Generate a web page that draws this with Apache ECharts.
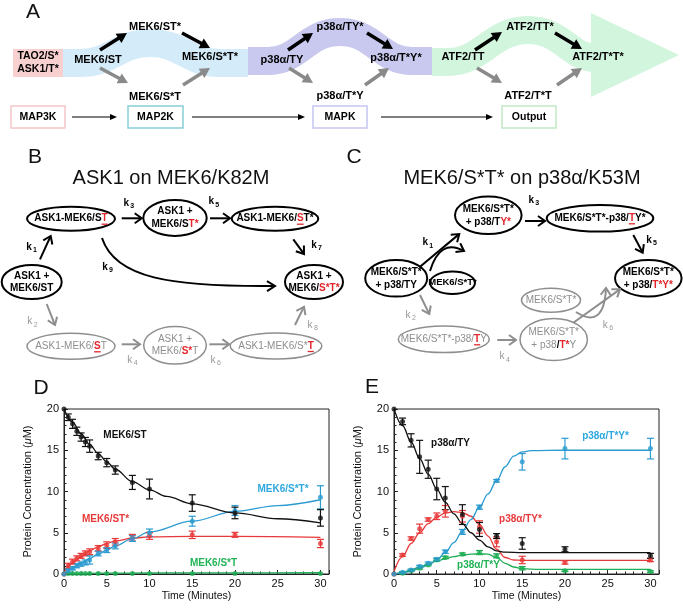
<!DOCTYPE html>
<html><head><meta charset="utf-8">
<script src="https://cdn.jsdelivr.net/npm/echarts@6/dist/echarts.min.js"></script>
<style>html,body{margin:0;padding:0;background:#fff}#c{width:683px;height:610px}</style>
</head><body><div id="c"></div>
<script>
const FF = '"Liberation Sans", Arial, Helvetica, sans-serif';

// ---------- Panel D data (ASK1 on MEK6/K82M) ----------
const timeD = [0, 0.5, 1, 1.5, 2, 2.5, 3, 4, 5, 6, 8, 10, 15, 20, 30];
const mek6ST = [20, 19.0, 18.2, 17.3, 16.6, 16.0, 15.5, 14.3, 13.5, 12.6, 11.1, 10.3, 8.6, 7.4, 6.8];
const mek6STErr = [0, 0.4, 0.55, 0.5, 0.5, 0.55, 0.75, 0.45, 0.5, 0.5, 0.85, 1.2, 1.0, 0.7, 1.0];
const mek6STp = [0, 1.0, 1.5, 1.9, 2.2, 2.5, 2.7, 3.1, 3.5, 3.9, 4.4, 4.6, 4.75, 4.75, 3.7];
const mek6STpErr = [0, 0.3, 0.3, 0.3, 0.3, 0.3, 0.35, 0.35, 0.4, 0.4, 0.4, 0.4, 0.45, 0.3, 0.5];
const mek6SpTp = [0, 0.4, 0.7, 1.0, 1.2, 1.4, 1.7, 2.5, 2.9, 3.4, 4.3, 5.0, 6.4, 7.7, 9.3];
const mek6SpTpErr = [0, 0.2, 0.2, 0.25, 0.25, 0.3, 0.5, 0.3, 0.3, 0.35, 0.35, 0.45, 0.6, 0.6, 1.4];
const mek6SpT = [0, 0.05, 0.05, 0.05, 0.05, 0.05, 0.05, 0.05, 0.05, 0.05, 0.05, 0.05, 0.05, 0.05, 0.05];
const mek6SpTErr = [0, 0, 0, 0, 0, 0, 0, 0, 0, 0, 0, 0, 0, 0, 0];
// fitted curves D
const fitD_ST_t = [0, 1, 2, 3, 4, 5, 6, 8, 10, 12, 15, 20, 25, 30];
const fitD_ST_v = [20, 18.4, 17.0, 15.7, 14.6, 13.6, 12.7, 11.2, 10.2, 9.4, 8.5, 7.4, 6.7, 6.2];
const fitD_STp_t = [0, 1, 2, 3, 4, 5, 6, 8, 10, 15, 20, 30];
const fitD_STp_v = [0.2, 1.3, 2.1, 2.8, 3.3, 3.7, 4.0, 4.35, 4.5, 4.55, 4.55, 4.45];
const fitD_SpTp_t = [0, 1, 2, 3, 4, 5, 6, 8, 10, 15, 20, 25, 30];
const fitD_SpTp_v = [0, 0.7, 1.3, 1.9, 2.4, 2.9, 3.4, 4.3, 5.1, 6.4, 7.6, 8.3, 9.0];
const fitD_SpT_t = [0, 5, 10, 15, 20, 30];
const fitD_SpT_v = [0.05, 0.1, 0.12, 0.13, 0.14, 0.15];

// ---------- Panel E data (MEK6/S*T* on p38a/K53M) ----------
const timeE = [0, 1, 2, 3, 4, 5, 6, 8, 10, 12, 15, 20, 30];
const p38TY = [20, 18.5, 16.2, 14.2, 12.7, 10.3, 9.2, 7.2, 5.4, 4.6, 3.7, 3.0, 2.2];
const p38TYErr = [0, 0.4, 0.8, 2.0, 1.1, 1.3, 1.4, 1.2, 0.85, 0.3, 0.7, 0.3, 0.3];
const p38TYp = [0, 2.3, 4.3, 5.5, 6.6, 7.0, 7.6, 7.0, 5.7, 3.9, 1.7, 1.4, 1.7];
const p38TYpErr = [0, 0.15, 0.2, 0.55, 0.2, 0.4, 0.7, 0.7, 0.75, 0.6, 0.45, 0.2, 0.2];
const p38TpYp = [0, 0.2, 0.5, 0.9, 1.3, 1.8, 2.7, 5.1, 8.1, 11.3, 13.6, 15.2, 15.2];
const p38TpYpErr = [0, 0.1, 0.1, 0.15, 0.15, 0.15, 0.2, 0.3, 0.25, 0.15, 1.0, 1.25, 1.25];
const p38TpY = [0, 0.1, 0.4, 0.7, 1.1, 1.7, 2.0, 2.4, 2.6, 2.2, 0.7, 0.4, 0.3];
const p38TpYErr = [0, 0.1, 0.1, 0.1, 0.1, 0.15, 0.15, 0.15, 0.25, 0.25, 0.2, 0.1, 0.1];
// fitted curves E
const fitE_TY_t = [0, 1, 2, 3, 4, 5, 6, 7, 8, 9, 10, 11, 12, 13, 15, 20, 30];
const fitE_TY_v = [20, 18.0, 16.0, 14.0, 12.1, 10.3, 8.7, 7.3, 6.1, 5.0, 4.1, 3.3, 2.8, 2.65, 2.6, 2.6, 2.6];
const fitE_TYp_t = [0, 1, 2, 3, 4, 5, 6, 7, 8, 9, 10, 11, 12, 13, 14, 15, 20, 30];
const fitE_TYp_v = [0.3, 2.1, 3.7, 5.0, 6.1, 6.9, 7.4, 7.55, 7.45, 7.0, 6.0, 4.6, 3.0, 2.0, 1.7, 1.65, 1.65, 1.65];
const fitE_TpYp_t = [0, 1, 2, 3, 4, 5, 6, 7, 8, 9, 10, 11, 12, 13, 14, 15, 16, 20, 30];
const fitE_TpYp_v = [0, 0.1, 0.35, 0.7, 1.1, 1.7, 2.6, 3.8, 5.2, 6.6, 8.1, 9.7, 11.3, 13.0, 14.3, 14.8, 14.95, 15.0, 15.0];
const fitE_TpY_t = [0, 1, 2, 3, 4, 5, 6, 7, 8, 9, 10, 11, 12, 13, 14, 15, 17, 30];
const fitE_TpY_v = [0, 0.2, 0.5, 0.85, 1.2, 1.55, 1.85, 2.1, 2.3, 2.4, 2.45, 2.4, 2.0, 1.3, 0.85, 0.65, 0.55, 0.55];

// tick labels
const xTicks = [0, 5, 10, 15, 20, 25, 30];
const yTicks = [0, 5, 10, 15, 20];

const C_BLACK = '#111111', C_RED = '#e8393a', C_BLUE = '#2a9ad0', C_GREEN = '#1fae55';
const C_BLUE_T = '#2ea8de', C_GREEN_T = '#22b357';
const RED = '#e3262b', GRAY = '#8e8e8e';

// ---------- graphics helpers ----------
const G = [];
const mctx = document.createElement('canvas').getContext('2d');
function fnt(size, weight) { return (weight || 'bold') + ' ' + size + 'px ' + FF; }
function tw(s, font) { mctx.font = font; return mctx.measureText(s).width; }
function T(x, y, s, o) {
  o = o || {};
  G.push({ type: 'text', z: 20, silent: true, style: {
    legacy: false, x: x, y: y, text: s, fill: o.c || '#000', font: fnt(o.s || 10, o.w || 'bold'),
    align: o.a || 'center', verticalAlign: 'middle', textAlign: o.a || 'center', textVerticalAlign: 'middle' } });
}
function RL(cx, cy, parts, size, weight, base) {
  let total = 0;
  parts.forEach(p => { total += tw(p[0], fnt(size, p[3] ? 'bold' : weight)); });
  let x = cx - total / 2;
  parts.forEach(p => {
    const f = fnt(size, p[3] ? 'bold' : weight);
    const w = tw(p[0], f);
    const col = p[1] || base;
    G.push({ type: 'text', z: 20, silent: true, style: { legacy: false, x: x, y: cy, text: p[0], fill: col, font: f,
      align: 'left', verticalAlign: 'middle', textAlign: 'left', textVerticalAlign: 'middle' } });
    if (p[2]) G.push({ type: 'line', z: 20, silent: true, shape: { x1: x, y1: cy + size * 0.55, x2: x + w, y2: cy + size * 0.55 }, style: { stroke: col, lineWidth: 1.3 } });
    x += w;
  });
}
function ELL(cx, cy, rx, ry, col, lw) {
  G.push({ type: 'ellipse', z: 15, silent: true, shape: { cx: cx, cy: cy, rx: rx, ry: ry }, style: { fill: '#fff', stroke: col, lineWidth: lw } });
}
function RECT(x, y, w, h, fill, stroke) {
  G.push({ type: 'rect', z: 5, silent: true, shape: { x: x, y: y, width: w, height: h }, style: { fill: fill, stroke: stroke || null, lineWidth: stroke ? 1.5 : 0 } });
}
function AF(x1, y1, x2, y2, col, lw, hl, hw) {
  const dx = x2 - x1, dy = y2 - y1, L = Math.hypot(dx, dy), ux = dx / L, uy = dy / L;
  const bx = x2 - ux * hl, by = y2 - uy * hl;
  G.push({ type: 'line', z: 18, silent: true, shape: { x1: x1, y1: y1, x2: bx + ux, y2: by + uy }, style: { stroke: col, lineWidth: lw } });
  G.push({ type: 'polygon', z: 18, silent: true, shape: { points: [[x2, y2], [bx - uy * hw, by + ux * hw], [bx + uy * hw, by - ux * hw]] }, style: { fill: col } });
}
function HEAD(x2, y2, ux, uy, col, lw, hl, hw) {
  const bx = x2 - ux * hl, by = y2 - uy * hl;
  G.push({ type: 'polyline', z: 18, silent: true, shape: { points: [[bx - uy * hw, by + ux * hw], [x2, y2], [bx + uy * hw, by - ux * hw]] }, style: { stroke: col, lineWidth: lw, fill: null } });
}
function AO(x1, y1, x2, y2, col, lw, hl, hw) {
  const dx = x2 - x1, dy = y2 - y1, L = Math.hypot(dx, dy), ux = dx / L, uy = dy / L;
  G.push({ type: 'line', z: 18, silent: true, shape: { x1: x1, y1: y1, x2: x2 - ux, y2: y2 - uy }, style: { stroke: col, lineWidth: lw } });
  HEAD(x2, y2, ux, uy, col, lw, hl, hw);
}
function CB(x1, y1, c1x, c1y, c2x, c2y, x2, y2, col, lw, hl, hw) {
  G.push({ type: 'bezierCurve', z: 18, silent: true, shape: { x1: x1, y1: y1, cpx1: c1x, cpy1: c1y, cpx2: c2x, cpy2: c2y, x2: x2, y2: y2 }, style: { stroke: col, lineWidth: lw, fill: null } });
  const dx = x2 - c2x, dy = y2 - c2y, L = Math.hypot(dx, dy);
  HEAD(x2, y2, dx / L, dy / L, col, lw, hl, hw);
}
function QB(x1, y1, cx, cy, x2, y2, col, lw, hl, hw) {
  G.push({ type: 'bezierCurve', z: 18, silent: true, shape: { x1: x1, y1: y1, cpx1: cx, cpy1: cy, x2: x2, y2: y2 }, style: { stroke: col, lineWidth: lw, fill: null } });
  const dx = x2 - cx, dy = y2 - cy, L = Math.hypot(dx, dy);
  HEAD(x2, y2, dx / L, dy / L, col, lw, hl, hw);
}
function K(x, y, n, col, bold) {
  const w = bold ? 'bold' : 'normal';
  T(x - 2, y, 'k', { c: col, s: 10, w: w });
  T(x + 2, y + 3, String(n), { c: col, s: 7, w: w, a: 'left' });
}
function ribbonSeg(shape, col) {
  G.push({ type: 'bezierCurve', z: 2, silent: true, shape: shape, style: { stroke: col, lineWidth: 28, fill: null, lineCap: 'butt' } });
}
function ribbonLine(x1, y1, x2, y2, col) {
  G.push({ type: 'line', z: 2, silent: true, shape: { x1: x1, y1: y1, x2: x2, y2: y2 }, style: { stroke: col, lineWidth: 28, lineCap: 'butt' } });
}

// ---------- Panel letters ----------
[['A', 33, 12], ['B', 35, 157], ['C', 354, 157], ['D', 41, 388], ['E', 372, 387]].forEach(a => T(a[1], a[2], a[0], { s: 21, w: 'normal', c: '#111' }));

// ---------- Panel A ----------
const cBlue = '#d4ecf9', cPurp = '#c9c9ef', cGreen = '#d2f5de';
ribbonLine(63, 63, 80, 63, cBlue);
ribbonSeg({ x1: 80, y1: 63, cpx1: 112, cpy1: 63, cpx2: 118, cpy2: 43, x2: 150, y2: 43 }, cBlue);
ribbonSeg({ x1: 150, y1: 43, cpx1: 182, cpy1: 43, cpx2: 188, cpy2: 63, x2: 220, y2: 63 }, cBlue);
ribbonLine(220, 63, 248, 63, cBlue);
ribbonLine(248, 61, 268, 61, cPurp);
ribbonSeg({ x1: 268, y1: 61, cpx1: 300, cpy1: 61, cpx2: 306, cpy2: 32, x2: 340, y2: 32 }, cPurp);
ribbonSeg({ x1: 340, y1: 32, cpx1: 374, cpy1: 32, cpx2: 380, cpy2: 61, x2: 412, y2: 61 }, cPurp);
ribbonLine(412, 61, 432, 61, cPurp);
ribbonLine(432, 62, 448, 62, cGreen);
ribbonSeg({ x1: 448, y1: 62, cpx1: 482, cpy1: 62, cpx2: 492, cpy2: 30, x2: 528, y2: 30 }, cGreen);
ribbonSeg({ x1: 528, y1: 30, cpx1: 562, cpy1: 30, cpx2: 570, cpy2: 58, x2: 596, y2: 58 }, cGreen);
G.push({ type: 'polygon', z: 2, silent: true, shape: { points: [[591, 13], [591, 97], [679, 55]] }, style: { fill: cGreen } });
RECT(13, 49, 50, 28, '#f8d0d0');
T(38, 56, 'TAO2/S*', { s: 10.5 }); T(38, 69.5, 'ASK1/T*', { s: 10.5 });
[['MEK6/ST', 98, 60], ['MEK6/ST*', 155, 27], ['MEK6/S*T*', 210, 57], ['MEK6/S*T', 155, 97],
 ['p38α/TY', 282, 60], ['p38α/TY*', 340, 27], ['p38α/T*Y*', 396, 58], ['p38α/T*Y', 340, 96],
 ['ATF2/TT', 463, 57], ['ATF2/TT*', 530, 27], ['ATF2/T*T*', 598, 57], ['ATF2/T*T', 528, 96]].forEach(l => T(l[1], l[2], l[0], { s: 11 }));
[[100, 50, 127, 33], [182, 33, 210, 48], [288, 50, 313, 33], [367, 33, 393, 49], [475, 50, 502, 32], [555, 33, 582, 49]]
  .forEach(a => AF(a[0], a[1], a[2], a[3], '#000', 3.5, 10, 5.5));
[[100, 68, 128, 83], [183, 85, 210, 68], [289, 68, 313, 83], [365, 85, 389, 68], [477, 68, 502, 83], [557, 85, 582, 68]]
  .forEach(a => AF(a[0], a[1], a[2], a[3], '#8a8a8a', 3.5, 10, 5.5));
RECT(11, 106, 54, 22, '#fff', '#f3c5c8'); T(38, 117, 'MAP3K', { s: 10.5 });
RECT(128, 106, 55, 22, '#fff', '#86cfd8'); T(155.5, 117, 'MAP2K', { s: 10.5 });
RECT(313, 106, 54, 22, '#fff', '#c5c5f0'); T(340, 117, 'MAPK', { s: 10.5 });
RECT(502, 106, 54, 22, '#fff', '#c2e9c4'); T(529, 117, 'Output', { s: 10.5 });
AF(72, 117, 117, 117, '#000', 1.2, 7, 3);
AF(192, 117, 305, 117, '#000', 1.2, 7, 3);
AF(381, 117, 493, 117, '#000', 1.2, 7, 3);

// ---------- Panel B ----------
T(171, 178, 'ASK1 on MEK6/K82M', { s: 20, w: 'normal', c: '#111' });
ELL(71, 218.7, 44, 12, '#000', 2); RL(71, 218.7, [['ASK1-MEK6/S'], ['T', RED, 1]], 10, 'bold', '#000');
ELL(175, 218, 31.7, 18, '#000', 2); T(175, 211, 'ASK1 +'); RL(175, 224, [['MEK6/S'], ['T*', RED]], 10, 'bold', '#000');
ELL(275, 218.7, 43.3, 12, '#000', 2); RL(275, 218.7, [['ASK1-MEK6/'], ['S', RED, 1], ['T*']], 10, 'bold', '#000');
ELL(31.7, 282, 30, 17, '#000', 2); T(31.7, 276, 'ASK1 +'); T(31.7, 288, 'MEK6/ST');
ELL(314, 282, 29, 17, '#000', 2); T(314, 276, 'ASK1 +'); RL(314, 288, [['MEK6/'], ['S*T*', RED]], 10, 'bold', '#000');
ELL(71, 346.3, 44, 13, GRAY, 1.5); RL(71, 346.3, [['ASK1-MEK6/'], ['S', RED, 1, 1], ['T']], 10, 'normal', GRAY);
ELL(175, 345.3, 31.3, 18.7, GRAY, 1.5); T(175, 339.5, 'ASK1 +', { w: 'normal', c: GRAY }); RL(175, 351.5, [['MEK6/'], ['S*', RED, 0, 1], ['T']], 10, 'normal', GRAY);
ELL(276, 346, 45.8, 13, GRAY, 1.5); RL(276, 346, [['ASK1-MEK6/S*'], ['T', RED, 1, 1]], 10, 'normal', GRAY);
AO(121.7, 218.3, 141.7, 218.3, '#000', 2, 7, 5); K(128.3, 203.3, 3, '#000', true);
AO(210, 218.3, 230, 218.3, '#000', 2, 7, 5); K(213.3, 201.7, 5, '#000', true);
AO(293.3, 239.3, 304, 254, '#000', 2, 7, 5); K(316, 245, 7, '#000', true);
AO(40, 259.3, 50.7, 236, '#000', 2, 7, 5); K(31, 247.3, 1, '#000', true);
CB(102, 238, 115, 278, 170, 287, 275, 286, '#000', 2, 8, 5); K(107, 267.3, 9, '#000', true);
AO(46.7, 304, 55, 325, GRAY, 2, 7, 5); K(31.7, 321.7, 2, '#999', false);
AO(121.7, 344.3, 140, 344.3, GRAY, 2, 7, 5); K(131.7, 360, 4, '#999', false);
AO(209.3, 344.3, 229.3, 344.3, GRAY, 2, 7, 5); K(215, 360, 6, '#999', false);
AO(295, 325, 304, 306.7, GRAY, 2, 7, 5); K(312, 325, 8, '#999', false);

// ---------- Panel C ----------
T(522, 178, 'MEK6/S*T* on p38α/K53M', { s: 20, w: 'normal', c: '#111' });
ELL(488.3, 215.3, 33.3, 18.7, '#000', 2); T(488.3, 209.5, 'MEK6/S*T*'); RL(488.3, 222, [['+ p38/T'], ['Y*', RED]], 10, 'bold', '#000');
ELL(600, 218.3, 53.3, 13.3, '#000', 2); RL(600, 218.3, [['MEK6/S*T*-p38/'], ['T', RED, 1], ['Y*']], 10, 'bold', '#000');
ELL(396.2, 278.3, 31, 18.3, '#000', 2); T(396.2, 272.5, 'MEK6/S*T*'); T(396.2, 285, '+ p38/TY');
ELL(452.5, 282.8, 22.5, 11.2, '#000', 2); T(452.5, 282.8, 'MEK6/S*T*', { s: 9.5 });
ELL(648.3, 278.3, 33.3, 18.3, '#000', 2); T(648.3, 272.5, 'MEK6/S*T*'); RL(648.3, 285, [['+ p38/'], ['T*Y*', RED]], 10, 'bold', '#000');
ELL(551, 300.3, 29.5, 12, GRAY, 1.5); T(551, 300.3, 'MEK6/S*T*', { w: 'normal', c: GRAY });
ELL(443.8, 339.3, 45.5, 13.3, GRAY, 1.5); RL(443.8, 339.3, [['MEK6/S*T*-p38/'], ['T', RED, 1, 1], ['Y']], 10, 'normal', GRAY);
ELL(553.7, 339.5, 33.7, 21, GRAY, 1.5); T(553.7, 332, 'MEK6/S*T*', { w: 'normal', c: GRAY }); RL(553.7, 345, [['+ p38'], ['/', '#000', 0, 1], ['T*', RED, 0, 1], ['Y']], 10, 'normal', GRAY);
AO(420, 266.7, 459.3, 234, '#000', 2, 7, 5);
QB(430, 271, 440, 238, 464, 251, '#000', 2, 7, 5); K(427.3, 242.7, 1, '#000', true);
AO(525, 221, 545, 221, '#000', 2, 7, 5); K(533.3, 200, 3, '#000', true);
AO(633.3, 235, 642.7, 252.7, '#000', 2, 7, 5); K(651, 240, 5, '#000', true);
AO(420, 295, 429.3, 314, GRAY, 2, 7, 5); K(410, 315, 2, '#999', false);
AO(497.3, 340, 516, 340, GRAY, 2, 7, 5); K(504, 356.7, 4, '#999', false);
AO(573.3, 322.7, 620, 289.3, GRAY, 2, 7, 5);
QB(576, 312, 604, 330, 606, 288, GRAY, 2, 7, 5); K(607.3, 325, 6, '#999', false);

// ---------- Chart labels ----------
T(125, 435, 'MEK6/ST', { c: C_BLACK });
T(105.5, 519, 'MEK6/ST*', { c: C_RED });
T(283, 489, 'MEK6/S*T*', { c: C_BLUE_T });
T(213.5, 563, 'MEK6/S*T', { c: C_GREEN_T });
T(450.5, 443, 'p38α/TY', { c: C_BLACK });
T(605.5, 436, 'p38α/T*Y*', { c: C_BLUE_T });
T(520.5, 519, 'p38α/TY*', { c: C_RED });
T(478.5, 565, 'p38α/T*Y', { c: C_GREEN_T });

// ---------- Chart builders ----------
function zip(a, b) { return a.map((v, i) => [v, b[i]]); }
function zip3(a, b, c) { return a.map((v, i) => [v, b[i], c[i]]); }
function errRender(params, api) {
  const x = api.value(0), y = api.value(1), e = api.value(2);
  if (!e) return null;
  const hi = api.coord([x, y + e]), lo = api.coord([x, y - e]);
  const w = 3.5, c = api.visual('color');
  const st = { stroke: c, lineWidth: 1.2 };
  return { type: 'group', children: [
    { type: 'line', shape: { x1: hi[0], y1: hi[1], x2: lo[0], y2: lo[1] }, style: st },
    { type: 'line', shape: { x1: hi[0] - w, y1: hi[1], x2: hi[0] + w, y2: hi[1] }, style: st },
    { type: 'line', shape: { x1: lo[0] - w, y1: lo[1], x2: lo[0] + w, y2: lo[1] }, style: st }
  ] };
}
function mkX(gi) {
  return { gridIndex: gi, type: 'value', min: 0, max: 31, interval: 5,
    name: 'Time (Minutes)', nameLocation: 'middle', nameGap: 17,
    nameTextStyle: { fontSize: 10.5, color: '#111', fontFamily: FF },
    axisLine: { onZero: false, lineStyle: { color: '#222', width: 1 } },
    axisTick: { inside: true, length: 4, lineStyle: { color: '#222' } },
    minorTick: { show: true, splitNumber: 5, length: 2.5, lineStyle: { color: '#222' } },
    axisLabel: { color: '#111', fontSize: 11, fontFamily: FF, margin: 4, formatter: v => xTicks.indexOf(v) >= 0 ? String(v) : '' },
    splitLine: { show: false } };
}
function mkY(gi) {
  return { gridIndex: gi, type: 'value', min: 0, max: 20, interval: 5,
    name: '{a|Protein Concentration (}{b|μ}{a|M)}', nameLocation: 'middle', nameGap: 31,
    nameTextStyle: { rich: { a: { fontSize: 11, color: '#111', fontFamily: FF }, b: { fontSize: 11, color: '#111', fontFamily: FF, fontStyle: 'italic' } } },
    axisLine: { lineStyle: { color: '#222', width: 1 } },
    axisTick: { inside: true, length: 4, lineStyle: { color: '#222' } },
    minorTick: { show: true, splitNumber: 5, length: 2.5, lineStyle: { color: '#222' } },
    axisLabel: { color: '#111', fontSize: 11, fontFamily: FF, margin: 5, formatter: v => yTicks.indexOf(v) >= 0 ? String(v) : '' },
    splitLine: { show: false } };
}
const series = [];
function addSet(gi, t, v, e, ft, fv, col) {
  series.push({ type: 'line', xAxisIndex: gi, yAxisIndex: gi, data: zip(ft, fv), smooth: 0.35, smoothMonotone: 'x', showSymbol: false, silent: true, lineStyle: { color: col, width: 1.3 }, itemStyle: { color: col }, z: 2 });
  series.push({ type: 'custom', xAxisIndex: gi, yAxisIndex: gi, data: zip3(t, v, e), renderItem: errRender, itemStyle: { color: col }, silent: true, z: 3 });
  series.push({ type: 'scatter', xAxisIndex: gi, yAxisIndex: gi, data: zip(t, v), symbolSize: 5, itemStyle: { color: col }, silent: true, z: 4, clip: false });
}
addSet(0, timeD, mek6SpT, mek6SpTErr, fitD_SpT_t, fitD_SpT_v, C_GREEN);
addSet(0, timeD, mek6STp, mek6STpErr, fitD_STp_t, fitD_STp_v, C_RED);
addSet(0, timeD, mek6SpTp, mek6SpTpErr, fitD_SpTp_t, fitD_SpTp_v, C_BLUE);
addSet(0, timeD, mek6ST, mek6STErr, fitD_ST_t, fitD_ST_v, C_BLACK);
addSet(1, timeE, p38TpY, p38TpYErr, fitE_TpY_t, fitE_TpY_v, C_GREEN);
addSet(1, timeE, p38TYp, p38TYpErr, fitE_TYp_t, fitE_TYp_v, C_RED);
addSet(1, timeE, p38TpYp, p38TpYpErr, fitE_TpYp_t, fitE_TpYp_v, C_BLUE);
addSet(1, timeE, p38TY, p38TYErr, fitE_TY_t, fitE_TY_v, C_BLACK);

const chart = echarts.init(document.getElementById('c'), null, { renderer: 'canvas' });
chart.setOption({
  animation: false,
  backgroundColor: '#fff',
  grid: [
    { left: 64, top: 409, width: 265, height: 165, show: true, borderColor: '#222', borderWidth: 1, backgroundColor: 'transparent' },
    { left: 394, top: 409, width: 265, height: 165, show: true, borderColor: '#222', borderWidth: 1, backgroundColor: 'transparent' }
  ],
  xAxis: [mkX(0), mkX(1)],
  yAxis: [mkY(0), mkY(1)],
  series: series,
  graphic: { elements: G }
});
</script></body></html>
